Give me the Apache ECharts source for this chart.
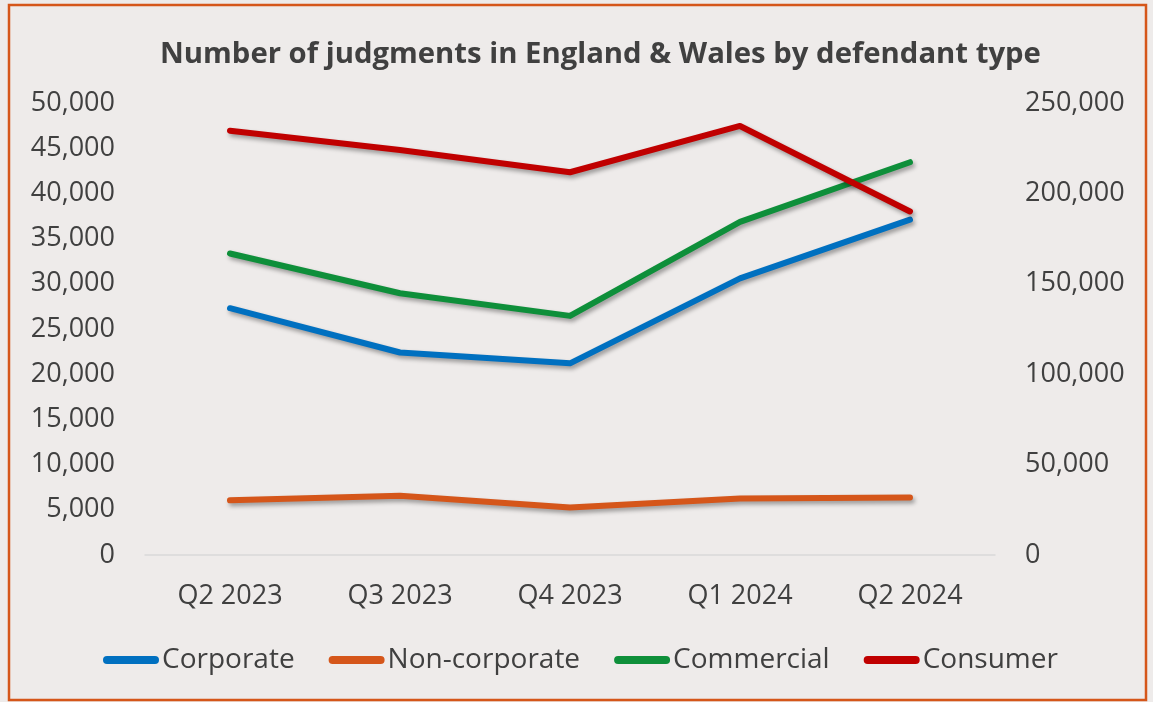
<!DOCTYPE html>
<html>
<head>
<meta charset="utf-8">
<script src="https://cdn.jsdelivr.net/npm/echarts@6/dist/echarts.min.js"></script>
<style>
html,body{margin:0;padding:0;background:#EEEBEA;}
#main{width:1153px;height:702px;}
</style>
</head>
<body>
<div id="main"></div>
<script>
const categories = ['Q2 2023', 'Q3 2023', 'Q4 2023', 'Q1 2024', 'Q2 2024'];
const corporate = [27300, 22400, 21200, 30600, 37100];
const nonCorporate = [6050, 6550, 5250, 6250, 6350];
const commercial = [33350, 28950, 26450, 36850, 43450];
const consumer = [234700, 224000, 211700, 237300, 190000];
const seriesNames = ['Corporate', 'Non-corporate', 'Commercial', 'Consumer'];
const seriesColors = ['#0070C0', '#D5561A', '#0E8F3A', '#C00000'];

const textColor = '#404040';
const fontFamily = '"Open Sans", sans-serif';
const fmt = v => v.toLocaleString('en-US');

function lineSeries(name, data, color, axisIndex) {
  return {
    name: name, type: 'line', data: data, yAxisIndex: axisIndex,
    showSymbol: false, symbol: 'none', smooth: false,
    lineStyle: {
      color: color, width: 6, cap: 'round', join: 'round',
      shadowColor: 'rgba(0,0,0,0.35)', shadowBlur: 4, shadowOffsetX: 2, shadowOffsetY: 3
    },
    itemStyle: { color: color },
    emphasis: { disabled: true }
  };
}

const chart = echarts.init(document.getElementById('main'), null, { renderer: 'canvas' });
chart.setOption({
  backgroundColor: '#EEEBEA',
  animation: false,
  title: {
    text: 'Number of judgments in England & Wales by defendant type',
    left: 155, top: 35,
    textStyle: { color: textColor, fontFamily: fontFamily, fontSize: 29.3, fontWeight: 'bold' }
  },
  legend: {
    data: seriesNames,
    left: 103, top: 646, padding: 0,
    itemWidth: 56, itemHeight: 8, itemGap: 34,
    icon: 'path://M4,0 L52,0 A4,4 0 0 1 52,8 L4,8 A4,4 0 0 1 4,0 Z',
    textStyle: { color: textColor, fontFamily: fontFamily, fontSize: 28, padding: [0, 0, 0, -2] }
  },
  grid: { left: 145, right: 158, top: 103, bottom: 147 },
  xAxis: {
    type: 'category', data: categories, boundaryGap: true,
    axisLine: { show: true, lineStyle: { color: '#D9D9D9', width: 1.5 } },
    axisTick: { show: false },
    axisLabel: { color: textColor, fontFamily: fontFamily, fontSize: 27, margin: 28 },
    splitLine: { show: false }
  },
  yAxis: [
    {
      type: 'value', min: 0, max: 50000, interval: 5000,
      axisLine: { show: false }, axisTick: { show: false }, splitLine: { show: false },
      axisLabel: { color: textColor, fontFamily: fontFamily, fontSize: 27, margin: 30, formatter: fmt }
    },
    {
      type: 'value', min: 0, max: 250000, interval: 50000, position: 'right',
      axisLine: { show: false }, axisTick: { show: false }, splitLine: { show: false },
      axisLabel: { color: textColor, fontFamily: fontFamily, fontSize: 27, margin: 30, formatter: fmt }
    }
  ],
  series: [
    lineSeries(seriesNames[0], corporate, seriesColors[0], 0),
    lineSeries(seriesNames[1], nonCorporate, seriesColors[1], 0),
    lineSeries(seriesNames[2], commercial, seriesColors[2], 0),
    lineSeries(seriesNames[3], consumer, seriesColors[3], 1)
  ],
  graphic: [{
    type: 'rect', silent: true,
    shape: { x: 9, y: 5, width: 1137, height: 695 },
    style: { fill: 'none', stroke: '#D5561A', lineWidth: 2.5 }
  }]
});
</script>
</body>
</html>
